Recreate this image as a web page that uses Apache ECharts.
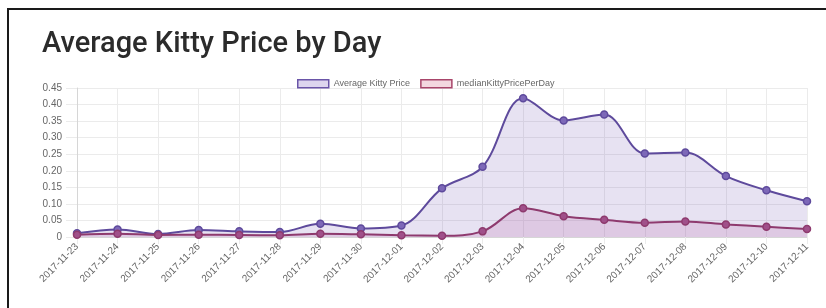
<!DOCTYPE html>
<html>
<head>
<meta charset="utf-8">
<script src="https://cdn.jsdelivr.net/npm/echarts@6/dist/echarts.min.js"></script>
<style>
  html, body { margin: 0; padding: 0; background: #fff; }
  #chart { width: 826px; height: 308px; }
  #frame {
    position: absolute; left: 7px; top: 8px; right: 0; bottom: 0;
    border-top: 2px solid #1a1a1a; border-left: 2px solid #1a1a1a;
    pointer-events: none;
  }
</style>
</head>
<body>
<div id="chart"></div>
<div id="frame"></div>
<script>
const days = [
  '2017-11-23', '2017-11-24', '2017-11-25', '2017-11-26', '2017-11-27',
  '2017-11-28', '2017-11-29', '2017-11-30', '2017-12-01', '2017-12-02',
  '2017-12-03', '2017-12-04', '2017-12-05', '2017-12-06', '2017-12-07',
  '2017-12-08', '2017-12-09', '2017-12-10', '2017-12-11'
]
const avgPrice = [
  0.011, 0.023, 0.009, 0.021, 0.017, 0.015, 0.040, 0.026, 0.035, 0.147,
  0.212, 0.419, 0.352, 0.370, 0.252, 0.255, 0.184, 0.141, 0.108
]
const medianPrice = [
  0.007, 0.010, 0.006, 0.007, 0.006, 0.005, 0.010, 0.008, 0.005, 0.004,
  0.017, 0.087, 0.063, 0.052, 0.043, 0.047, 0.038, 0.031, 0.024
]

const chart = echarts.init(document.getElementById('chart'))

const gridColor = '#ebebeb'

chart.setOption({
  animation: false,
  textStyle: { fontFamily: 'Liberation Sans, Arial, sans-serif' },
  title: {
    text: 'Average Kitty Price by Day',
    left: 37,
    top: 25,
    textStyle: { fontSize: 29, fontWeight: 500, fontFamily: 'Roboto, sans-serif', color: '#2b2b2b' }
  },
  legend: {
    top: 74,
    left: 292,
    itemWidth: 31,
    itemHeight: 8,
    itemGap: 10,
    icon: 'rect',
    textStyle: { fontSize: 9, color: '#666' },
    data: [
      { name: 'Average Kitty Price', itemStyle: { color: '#ddd5ee', borderColor: '#6a55a8', borderWidth: 1.5 } },
      { name: 'medianKittyPricePerDay', itemStyle: { color: '#f3d7df', borderColor: '#a8456a', borderWidth: 1.5 } }
    ]
  },
  grid: { left: 77, right: 19, top: 88, bottom: 71 },
  xAxis: {
    type: 'category',
    data: days,
    boundaryGap: false,
    axisLine: { lineStyle: { color: '#d6d6d6' } },
    axisTick: { show: true, length: 7, lineStyle: { color: gridColor } },
    splitLine: { show: true, lineStyle: { color: gridColor } },
    axisLabel: { rotate: 45, fontSize: 10, color: '#666', margin: 8, interval: 0 }
  },
  yAxis: {
    type: 'value',
    min: 0,
    max: 0.45,
    interval: 0.05,
    axisLine: { show: true, lineStyle: { color: '#d6d6d6' } },
    axisTick: { show: true, length: 11, lineStyle: { color: gridColor } },
    splitLine: { lineStyle: { color: gridColor } },
    axisLabel: {
      fontSize: 10, color: '#666', margin: 15,
      formatter: v => (v === 0 ? '0' : v.toFixed(2))
    }
  },
  series: [
    {
      name: 'Average Kitty Price',
      type: 'line',
      data: avgPrice,
      smooth: 0.35,
      symbol: 'circle',
      symbolSize: 7,
      lineStyle: { color: '#5e4a9c', width: 2 },
      itemStyle: { color: '#7d68b8', borderColor: '#5e4a9c', borderWidth: 1.5 },
      areaStyle: { color: 'rgba(120, 90, 180, 0.25)' },
      z: 2
    },
    {
      name: 'medianKittyPricePerDay',
      type: 'line',
      data: medianPrice,
      smooth: 0.35,
      symbol: 'circle',
      symbolSize: 7,
      lineStyle: { color: '#8e3a6e', width: 2 },
      itemStyle: { color: '#a0508a', borderColor: '#8e3a6e', borderWidth: 1.5 },
      areaStyle: { color: 'rgba(190, 110, 170, 0.3)' },
      z: 3
    }
  ]
})
</script>
</body>
</html>
